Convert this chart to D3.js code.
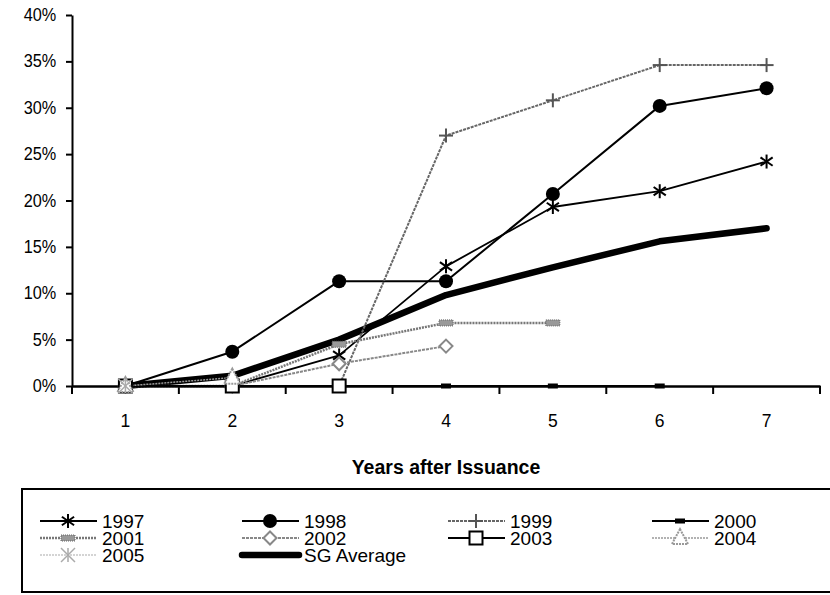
<!DOCTYPE html>
<html><head><meta charset="utf-8">
<script src="https://cdn.jsdelivr.net/npm/d3@7"></script>
<style>body{margin:0;background:#fff} text{font-family:"Liberation Sans",Arial,sans-serif}</style>
</head><body><svg id="c" width="830" height="595"></svg>
<script>
const years = [1, 2, 3, 4, 5, 6, 7];
const yTickValues = [0, 0.05, 0.10, 0.15, 0.20, 0.25, 0.30, 0.35, 0.40];
const seriesNames = ["1997", "1998", "1999", "2000", "2001", "2002", "2003", "2004", "2005", "SG Average"];
const v1997 = [0, 0, 0.033, 0.129, 0.193, 0.210, 0.242];
const v1998 = [0, 0.037, 0.113, 0.113, 0.207, 0.302, 0.321];
const v1999 = [0, 0, 0, 0.270, 0.308, 0.346, 0.346];
const v2000 = [0, 0, 0, 0, 0, 0];
const v2001 = [0, 0, 0.045, 0.068, 0.068];
const v2002 = [0, 0, 0.024, 0.043];
const v2003 = [0, 0, 0];
const v2004 = [0, 0.009];
const v2005 = [0];
const vAvg = [0, 0.011, 0.050, 0.098, 0.128, 0.156, 0.170];
const allValues = [v1997, v1998, v1999, v2000, v2001, v2002, v2003, v2004, v2005, vAvg];

const styles = {
  "1997": {stroke: "#000", width: 1.8, marker: "asterisk", mc: "#000"},
  "1998": {stroke: "#000", width: 2, marker: "circle", mc: "#000"},
  "1999": {stroke: "#666", width: 2, dash: "3,1", marker: "plus", mc: "#555"},
  "2000": {stroke: "#000", width: 2, marker: "dash", mc: "#000"},
  "2001": {stroke: "#777", width: 2.5, dash: "2,1", marker: "hatch", mc: "#666"},
  "2002": {stroke: "#888", width: 2, dash: "3,1", marker: "diamond", mc: "#888"},
  "2003": {stroke: "#000", width: 2, marker: "square", mc: "#000"},
  "2004": {stroke: "#999", width: 1.5, dash: "2,1", marker: "triangle", mc: "#999"},
  "2005": {stroke: "#aaa", width: 1.2, dash: "2,1", marker: "xstar", mc: "#aaa"},
  "SG Average": {stroke: "#000", width: 6.5, marker: null}
};

const svg = d3.select("#c");
const x = d3.scaleBand().domain(years).range([72, 820]);
const xc = d => x(d) + x.bandwidth() / 2;
const y = d3.scaleLinear().domain([0, 0.40]).range([386, 15]);

// axes
const yAxis = d3.axisLeft(y).tickValues(yTickValues).tickFormat(d3.format(".0%")).tickSize(6).tickSizeOuter(0).tickPadding(11);
const gy = svg.append("g").attr("transform", "translate(72,0)").call(yAxis);
gy.selectAll("text").attr("font-size", 17.5).attr("fill", "#000").style("font-family", "Liberation Sans, Arial, sans-serif")
  .attr("transform", "scale(0.93,1)");
gy.selectAll("line,path").attr("stroke", "#000").attr("stroke-width", 2);

const xAxis = d3.axisBottom(x).tickSize(0).tickSizeOuter(0).tickPadding(29);
const gx = svg.append("g").attr("transform", "translate(0,386)").call(xAxis);
gx.select("path").attr("stroke", "#000").attr("stroke-width", 2.5);
gx.selectAll("text").attr("font-size", 17.5).attr("fill", "#000").style("font-family", "Liberation Sans, Arial, sans-serif");
const bounds = years.map(d => x(d)).concat([x.range()[1]]);
svg.append("g").selectAll("line").data(bounds).join("line")
  .attr("x1", d => d).attr("x2", d => d).attr("y1", 386).attr("y2", 394)
  .attr("stroke", "#000").attr("stroke-width", 2);

svg.append("text").attr("x", 446).attr("y", 474).attr("text-anchor", "middle")
  .attr("font-size", 19.5).attr("font-weight", "bold").text("Years after Issuance");

// markers
function drawMarker(g, type, cx, cy, col) {
  const m = g.append("g").attr("transform", `translate(${cx},${cy})`);
  if (type === "asterisk") {
    const r = 7;
    [[0, -r, 0, r], [-r * 0.87, -r * 0.6, r * 0.87, r * 0.6], [-r * 0.87, r * 0.6, r * 0.87, -r * 0.6]].forEach(l =>
      m.append("line").attr("x1", l[0]).attr("y1", l[1]).attr("x2", l[2]).attr("y2", l[3]).attr("stroke", col).attr("stroke-width", 2));
  } else if (type === "circle") {
    m.append("circle").attr("r", 7).attr("fill", col);
  } else if (type === "plus") {
    m.append("line").attr("x1", 0).attr("x2", 0).attr("y1", -7).attr("y2", 7).attr("stroke", col).attr("stroke-width", 2);
    m.append("line").attr("x1", -7).attr("x2", 7).attr("y1", 0).attr("y2", 0).attr("stroke", col).attr("stroke-width", 2);
  } else if (type === "dash") {
    m.append("rect").attr("x", -5).attr("y", -2.5).attr("width", 10).attr("height", 5).attr("fill", col);
  } else if (type === "hatch") {
    m.append("rect").attr("x", -7).attr("y", -3).attr("width", 14).attr("height", 6).attr("fill", "#999").attr("stroke", col).attr("stroke-width", 1).attr("stroke-dasharray", "1,1");
  } else if (type === "diamond") {
    m.append("path").attr("d", "M0,-6.5L6.5,0L0,6.5L-6.5,0Z").attr("fill", "#fff").attr("stroke", col).attr("stroke-width", 2);
  } else if (type === "square") {
    m.append("rect").attr("x", -6.5).attr("y", -6.5).attr("width", 13).attr("height", 13).attr("fill", "#fff").attr("stroke", col).attr("stroke-width", 2);
  } else if (type === "triangle") {
    m.append("path").attr("d", "M0,-9L8,6L-8,6Z").attr("fill", "#fff").attr("stroke", col).attr("stroke-width", 2).attr("stroke-dasharray", "2,1");
  } else if (type === "xstar") {
    const r = 7;
    [[-r, -r, r, r], [-r, r, r, -r], [0, -r, 0, r]].forEach(l =>
      m.append("line").attr("x1", l[0]).attr("y1", l[1]).attr("x2", l[2]).attr("y2", l[3]).attr("stroke", col).attr("stroke-width", 1.5));
  }
}

const line = d3.line().x((d, i) => xc(years[i])).y(d => y(d));
const gLines = svg.append("g");
const gMarks = svg.append("g");
const order = [9, 0, 1, 2, 3, 4, 5, 6, 7, 8];
order.forEach(k => {
  const name = seriesNames[k], st = styles[name], vals = allValues[k];
  gLines.append("path").datum(vals).attr("d", line).attr("fill", "none")
    .attr("stroke", st.stroke).attr("stroke-width", st.width)
    .attr("stroke-dasharray", st.dash || null)
    .attr("stroke-linecap", name === "SG Average" ? "round" : "butt")
    .attr("stroke-linejoin", "round");
  if (st.marker) vals.forEach((v, i) => drawMarker(gMarks, st.marker, xc(years[i]), y(v), st.mc));
});

// legend
const legend = svg.append("g");
legend.append("rect").attr("x", 22).attr("y", 489).attr("width", 830).attr("height", 103)
  .attr("fill", "none").attr("stroke", "#000").attr("stroke-width", 2);
const colX = [40, 242, 448, 652];
const rowY = [521, 538, 555];
seriesNames.forEach((name, k) => {
  const st = styles[name];
  const cx0 = colX[k % 4], cy0 = rowY[Math.floor(k / 4)];
  legend.append("line").attr("x1", cx0).attr("x2", cx0 + 57).attr("y1", cy0).attr("y2", cy0)
    .attr("stroke", st.stroke).attr("stroke-width", st.width)
    .attr("stroke-dasharray", st.dash || null)
    .attr("stroke-linecap", name === "SG Average" ? "round" : "butt");
  if (st.marker) drawMarker(legend, st.marker, cx0 + 28, cy0, st.mc);
  legend.append("text").attr("x", cx0 + 62).attr("y", cy0).attr("dy", "0.36em")
    .attr("font-size", 19).text(name);
});
</script></body></html>
